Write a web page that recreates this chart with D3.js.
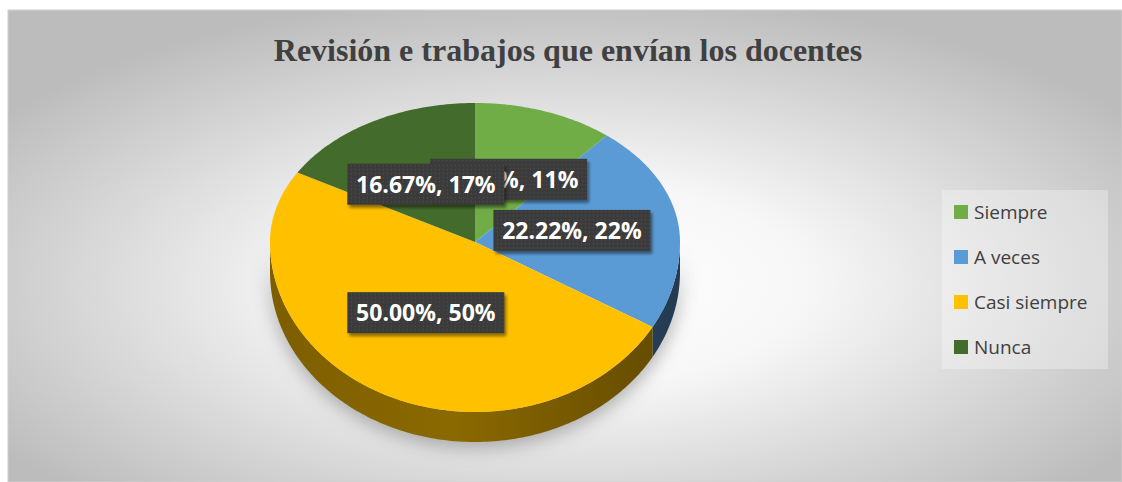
<!DOCTYPE html>
<meta charset="utf-8">
<style>
  body { margin: 0; background: #fff; }
  svg { display: block; }
</style>
<svg width="1122" height="482"></svg>
<script src="https://d3js.org/d3.v7.min.js"></script>
<script>
    // data
    var categories = ["Siempre", "A veces", "Casi siempre", "Nunca"];
    var values = [11.11, 22.22, 50.00, 16.67];
    var rounded = ["11%", "22%", "50%", "17%"];
    var colors = ["#70ad47", "#5b9bd5", "#ffc000", "#436b2b"];

    var svg = d3.select("svg"),
        width = +svg.attr("width"),
        height = +svg.attr("height");

    var defs = svg.append("defs");

    // background gradient
    var bg = defs.append("radialGradient").attr("id", "bg")
        .attr("cx", "50%").attr("cy", "58%").attr("r", "62%");
    bg.append("stop").attr("offset", "0").attr("stop-color", "#ffffff");
    bg.append("stop").attr("offset", "0.35").attr("stop-color", "#f7f7f7");
    bg.append("stop").attr("offset", "1").attr("stop-color", "#bcbcbc");

    var shadowBlur = defs.append("filter").attr("id", "blur")
        .attr("x", "-30%").attr("y", "-30%").attr("width", "160%").attr("height", "160%");
    shadowBlur.append("feGaussianBlur").attr("stdDeviation", 9);

    var drop = defs.append("filter").attr("id", "drop")
        .attr("x", "-10%").attr("y", "-20%").attr("width", "130%").attr("height", "150%");
    drop.append("feDropShadow").attr("dx", 2).attr("dy", 3)
        .attr("stdDeviation", 1.5).attr("flood-color", "#000").attr("flood-opacity", 0.45);

    var dots = defs.append("pattern").attr("id", "dots")
        .attr("width", 4).attr("height", 4).attr("patternUnits", "userSpaceOnUse");
    dots.append("rect").attr("width", 4).attr("height", 4).attr("fill", "#3a3a3a");
    dots.append("rect").attr("x", 1).attr("y", 1).attr("width", 1).attr("height", 1).attr("fill", "#555");

    svg.append("rect")
        .attr("x", 8).attr("y", 10)
        .attr("width", width - 8).attr("height", height - 10)
        .attr("fill", "url(#bg)")
        .attr("stroke", "#d0d0d0").attr("stroke-width", 1);

    // title
    svg.append("text")
        .attr("x", 568).attr("y", 61)
        .attr("text-anchor", "middle")
        .style("font-family", "'Liberation Serif', 'Times New Roman', serif")
        .style("font-weight", "bold")
        .style("font-size", "32px")
        .style("fill", "#404040")
        .text("Revisión e trabajos que envían los docentes");

    // 3d pie geometry
    var cx = 475, cy = 242, rx = 205, ryTop = 139, ryBot = 170, depth = 30;
    var deg = Math.PI / 180;

    function proj(a, f) {
        f = f == null ? 1 : f;
        var c = Math.cos(a);
        return [cx + rx * f * Math.sin(a), cy - (c > 0 ? ryTop : ryBot) * f * c];
    }

    function arcPoints(a0, a1, dy) {
        var pts = [], n = Math.max(2, Math.ceil((a1 - a0) / deg));
        for (var i = 0; i <= n; i++) {
            var p = proj(a0 + (a1 - a0) * i / n);
            pts.push([p[0], p[1] + (dy || 0)]);
        }
        return pts;
    }

    var pie = d3.pie().sort(null).value(function(d) { return d; });
    var arcs = pie(values);
    var line = d3.line();

    var g = svg.append("g");

    // soft shadow under the pie
    var shadowPts = arcPoints(90 * deg, 270 * deg, depth + 6);
    g.append("path")
        .attr("d", line(shadowPts.concat(arcPoints(90 * deg, 270 * deg, 0).reverse())) + "Z")
        .attr("fill", "#9a9a9a")
        .attr("opacity", 0.8)
        .attr("filter", "url(#blur)");

    // side walls (front half only)
    arcs.forEach(function(d, i) {
        var a0 = Math.max(d.startAngle, 90 * deg), a1 = Math.min(d.endAngle, 270 * deg);
        if (a1 <= a0) return;
        var top = arcPoints(a0, a1, 0),
            bottom = arcPoints(a0, a1, depth).reverse();
        var grad = defs.append("linearGradient").attr("id", "side" + i)
            .attr("gradientUnits", "userSpaceOnUse")
            .attr("x1", cx - rx).attr("x2", cx + rx).attr("y1", 0).attr("y2", 0);
        var base = d3.color(colors[i]);
        grad.append("stop").attr("offset", "0").attr("stop-color", base.darker(2.0));
        grad.append("stop").attr("offset", "0.45").attr("stop-color", base.darker(1.7));
        grad.append("stop").attr("offset", "1").attr("stop-color", base.darker(2.7));
        g.append("path")
            .attr("d", line(top.concat(bottom)) + "Z")
            .attr("fill", "url(#side" + i + ")");
    });

    // top faces
    g.selectAll("path.slice")
        .data(arcs)
        .enter()
        .append("path")
        .attr("class", "slice")
        .attr("d", function(d) {
            return line([[cx, cy]].concat(arcPoints(d.startAngle, d.endAngle, 0))) + "Z";
        })
        .attr("fill", function(d, i) { return colors[i]; });

    // data labels
    var boxW = 157, boxH = 41;
    var labels = g.selectAll("g.label")
        .data(arcs)
        .enter()
        .append("g")
        .attr("class", "label")
        .attr("transform", function(d) {
            var p = proj((d.startAngle + d.endAngle) / 2, 0.48);
            return "translate(" + p[0] + "," + p[1] + ")";
        });

    labels.append("rect")
        .attr("x", -boxW / 2).attr("y", -boxH / 2)
        .attr("width", boxW).attr("height", boxH)
        .attr("fill", "url(#dots)")
        .attr("filter", "url(#drop)");

    labels.append("text")
        .attr("text-anchor", "middle")
        .attr("dy", "0.36em")
        .style("font-family", "'Open Sans', sans-serif")
        .style("font-weight", "bold")
        .style("font-size", "23px")
        .style("fill", "#ffffff")
        .text(function(d, i) { return values[i].toFixed(2) + "%, " + rounded[i]; });

    // legend
    var legend = svg.append("g");
    legend.append("rect")
        .attr("x", 942).attr("y", 190)
        .attr("width", 166).attr("height", 179)
        .attr("fill", "#ffffff").attr("opacity", 0.3);

    var legendY = d3.scalePoint().domain(categories).range([212, 347]);

    var items = legend.selectAll("g.item")
        .data(categories)
        .enter()
        .append("g")
        .attr("class", "item")
        .attr("transform", function(d) { return "translate(954," + legendY(d) + ")"; });

    items.append("rect")
        .attr("x", 0).attr("y", -7)
        .attr("width", 14).attr("height", 14)
        .attr("fill", function(d, i) { return colors[i]; });

    items.append("text")
        .attr("x", 20).attr("dy", "0.35em")
        .style("font-family", "'Open Sans', sans-serif")
        .style("font-size", "19px")
        .style("fill", "#404040")
        .text(function(d) { return d; });
</script>
